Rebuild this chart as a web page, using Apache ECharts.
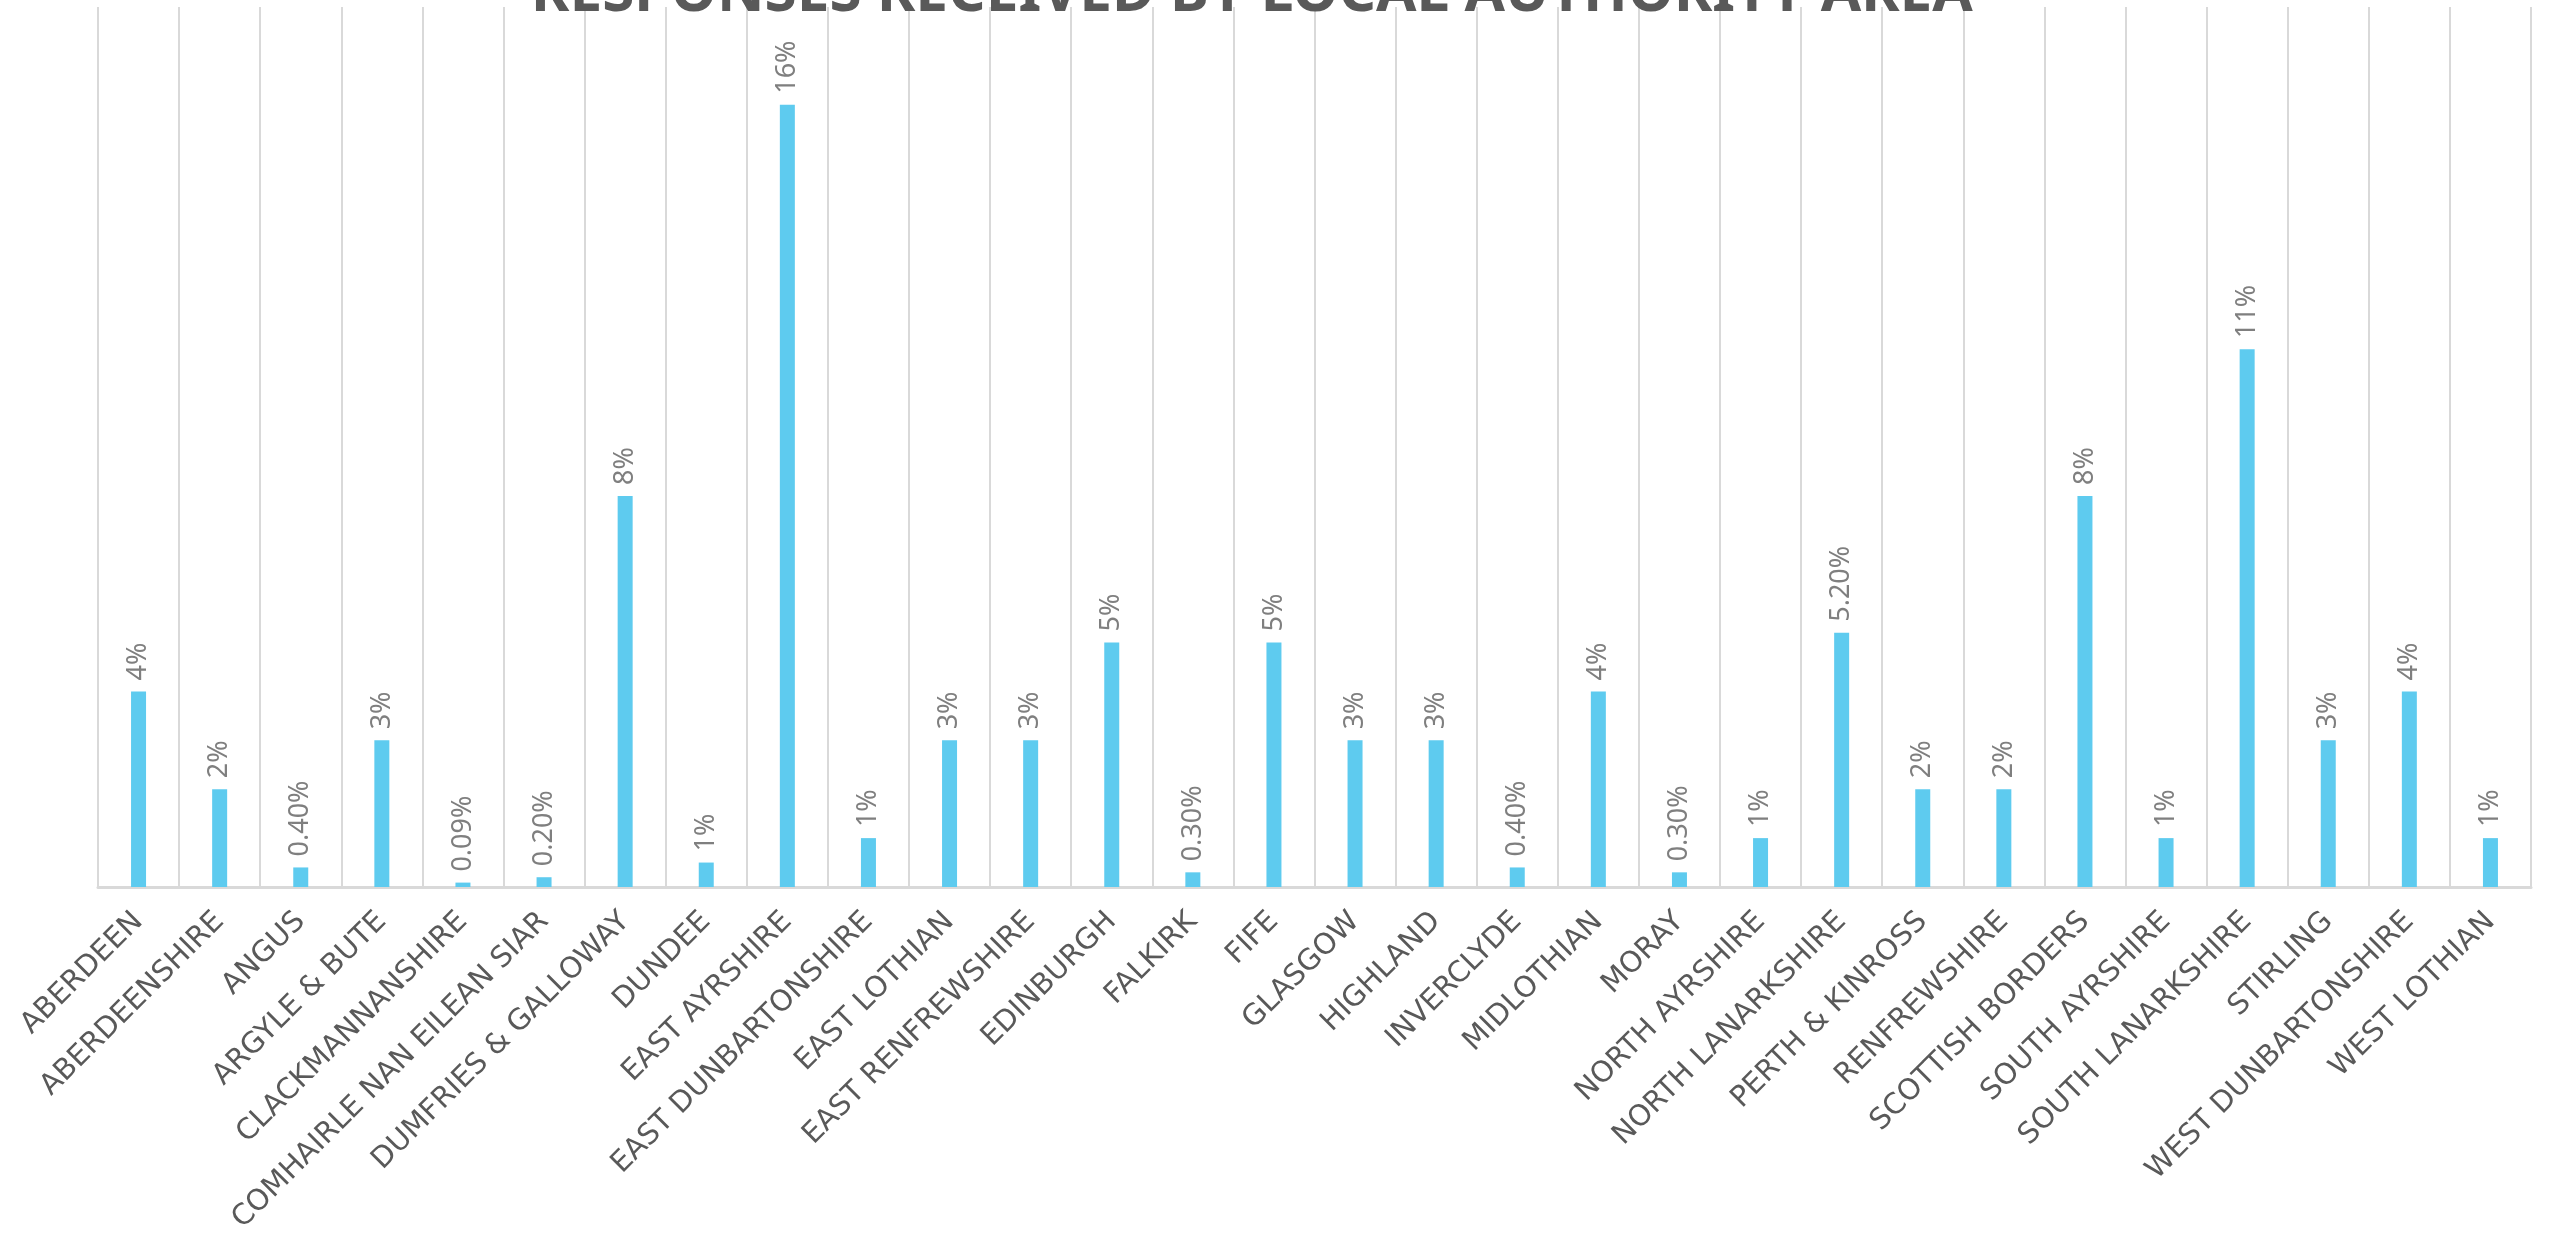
<!DOCTYPE html>
<html>
<head>
<meta charset="utf-8">
<script src="https://cdn.jsdelivr.net/npm/echarts@6/dist/echarts.min.js"></script>
<style>
html,body{margin:0;padding:0;background:#fff;}
#chart{width:2552px;height:1238px;}
</style>
</head>
<body>
<div id="chart"></div>
<script>
const titleText = 'RESPONSES RECEIVED BY LOCAL AUTHORITY AREA';
const categories = ['ABERDEEN','ABERDEENSHIRE','ANGUS','ARGYLE & BUTE','CLACKMANNANSHIRE','COMHAIRLE NAN EILEAN SIAR','DUMFRIES & GALLOWAY','DUNDEE','EAST AYRSHIRE','EAST DUNBARTONSHIRE','EAST LOTHIAN','EAST RENFREWSHIRE','EDINBURGH','FALKIRK','FIFE','GLASGOW','HIGHLAND','INVERCLYDE','MIDLOTHIAN','MORAY','NORTH AYRSHIRE','NORTH LANARKSHIRE','PERTH & KINROSS','RENFREWSHIRE','SCOTTISH BORDERS','SOUTH AYRSHIRE','SOUTH LANARKSHIRE','STIRLING','WEST DUNBARTONSHIRE','WEST LOTHIAN'];
const values = [4,2,0.4,3,0.09,0.2,8,0.5,16,1,3,3,5,0.3,5,3,3,0.4,4,0.3,1,5.2,2,2,8,1,11,3,4,1];
const valueLabels = ['4%','2%','0.40%','3%','0.09%','0.20%','8%','1%','16%','1%','3%','3%','5%','0.30%','5%','3%','3%','0.40%','4%','0.30%','1%','5.20%','2%','2%','8%','1%','11%','3%','4%','1%'];

const chart = echarts.init(document.getElementById('chart'));
chart.setOption({
  animation: false,
  backgroundColor: '#ffffff',
  title: {
    text: titleText,
    left: 526,
    top: -40,
    textStyle: {fontFamily: 'Noto Sans', fontWeight: 'bold', fontSize: 58.5, color: '#595959'}
  },
  grid: {left: 98, right: 21, top: 7, bottom: 351, containLabel: false},
  xAxis: {
    type: 'category',
    data: categories,
    boundaryGap: true,
    axisTick: {show: false},
    axisLine: {lineStyle: {color: '#d9d9d9', width: 3}},
    splitLine: {show: true, lineStyle: {color: '#d9d9d9', width: 2}},
    axisLabel: {interval: 0, rotate: 45, margin: 30, fontFamily: 'DejaVu Sans', fontSize: 29, color: '#595959'}
  },
  yAxis: {
    type: 'value', min: 0, max: 18, show: false,
    splitLine: {show: false}
  },
  series: [{
    type: 'bar',
    data: values,
    barWidth: 15,
    itemStyle: {color: '#5ecbef'},
    label: {
      show: true,
      position: 'top',
      distance: 11,
      rotate: 90,
      align: 'left',
      verticalAlign: 'middle',
      fontFamily: 'Noto Sans',
      fontSize: 27,
      color: '#7f7f7f',
      formatter: p => valueLabels[p.dataIndex]
    }
  }]
});
</script>
</body>
</html>
